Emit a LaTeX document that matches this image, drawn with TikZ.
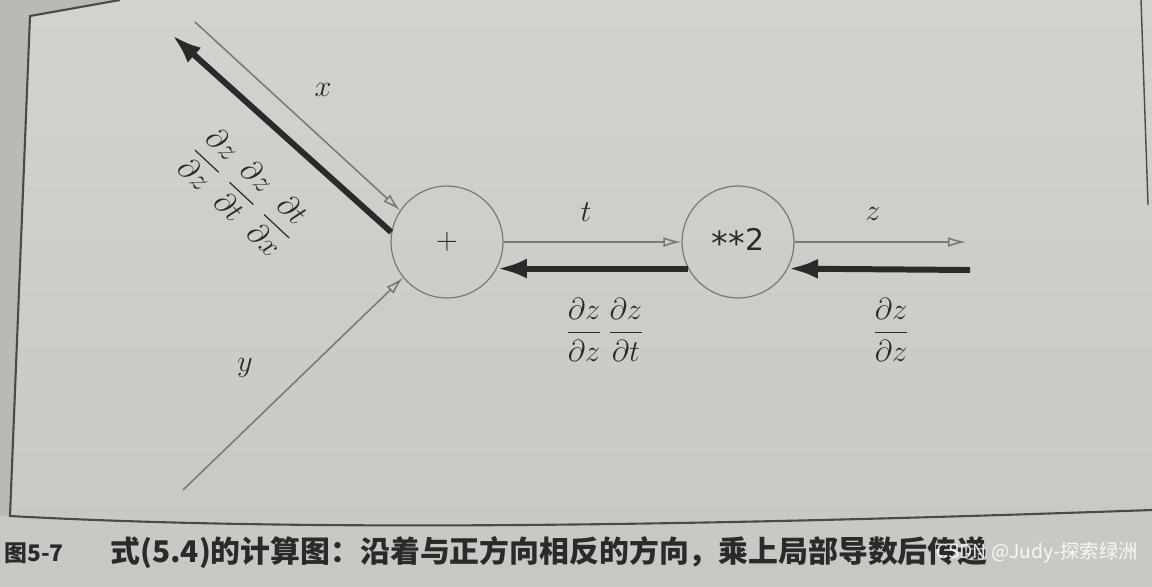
\documentclass[tikz,border=0pt]{standalone}
\usepackage{amsmath}
\usepackage{fontspec}
\newfontfamily\cjk{Noto Sans CJK SC}
\newfontfamily\opfont{DejaVu Sans}
\usetikzlibrary{arrows.meta}

\definecolor{pagegray}{RGB}{199,199,195}
\definecolor{pagetop}{RGB}{210,210,206}
\definecolor{inkdark}{RGB}{42,42,42}
\definecolor{wiregray}{RGB}{122,122,119}

\begin{document}
\begin{tikzpicture}[
    x=0.02cm, y=-0.02cm,
    opnode/.style={circle, draw=wiregray, line width=0.7pt, minimum size=2.24cm, inner sep=0pt,
        font=\opfont\fontsize{17}{20}\selectfont, text=inkdark},
    fwd/.style={draw=wiregray, line width=0.9pt, -{Latex[open, length=0.36cm, width=0.2cm]}},
    bwd/.style={draw=inkdark, line width=3.4pt, -{Latex[length=0.6cm, width=0.4cm]}},
    lbl/.style={inner sep=0pt, text=inkdark, font=\fontsize{16}{19}\selectfont},
    frame/.style={draw=inkdark!85, line width=1.2pt}
]
\useasboundingbox (0,0) rectangle (1152,586);
\shade[top color=pagetop, bottom color=pagegray] (0,0) rectangle (1152,586);
\fill[pagegray!93!black] (0,0) -- (120,0) -- (30,16) -- (10,516) -- (0,516) -- cycle;

% page frame
\draw[frame] (120,0) -- (30,16) -- (10,516) .. controls (300,532) and (700,526) .. (1152,510);
\draw[frame, line width=0.8pt] (1141,0) -- (1148,205);

% operations
\node[opnode] (plus) at (447,242) {\fontsize{16}{19}\selectfont$+$};
\node[opnode] (sq) at (738,242) {\raisebox{-2.5pt}{\fontsize{19}{20}\selectfont**}2};

\coordinate (xin) at (195,22);
\coordinate (xgrad) at (172,35);
\coordinate (yin) at (183,490);
\coordinate (zout) at (966,242);
\coordinate (zgrad) at (970,270);

% forward
\draw[fwd] (xin) -- (plus.146);
\draw[fwd] (yin) -- (plus.219);
\draw[fwd] (plus.east) -- (sq.west);
\draw[fwd] (sq.east) -- (zout);

% backward
\draw[bwd] (plus.170) -- (xgrad);
\draw[bwd] (sq.208) -- (plus.332);
\draw[bwd] (zgrad) -- (sq.332);

\node[lbl] (xlbl) at (323,90) {$x$};
\node[lbl] (ylbl) at (245,368) {$y$};
\node[lbl] (tlbl) at (586,212) {$t$};
\node[lbl] (zlbl) at (873,214) {$z$};
\node[lbl, rotate=-43] (xgradlbl) at (244,192)
    {$\dfrac{\partial z}{\partial z}\hspace{6pt}\dfrac{\partial z}{\partial t}\hspace{6pt}\dfrac{\partial t}{\partial x}$};
\node[lbl] (tgradlbl) at (605,330) {$\dfrac{\partial z}{\partial z}\,\dfrac{\partial z}{\partial t}$};
\node[lbl] (zgradlbl) at (891,330) {$\dfrac{\partial z}{\partial z}$};

% caption
\node[anchor=west, inner sep=0pt, text=inkdark, font=\cjk\bfseries\fontsize{13}{15}\selectfont]
    (fignum) at (4,553) {图5-7};
\node[anchor=west, inner sep=0pt, text=inkdark, font=\cjk\bfseries\fontsize{17}{20}\selectfont]
    (caption) at (110,553) {式(5.4)的计算图：沿着与正方向相反的方向，乘上局部导数后传递};
\node[anchor=east, inner sep=0pt, text=white, opacity=0.85, font=\cjk\fontsize{11}{13}\selectfont]
    (mark) at (1138,553) {CSDN @Judy-探索绿洲};
\end{tikzpicture}
\end{document}
